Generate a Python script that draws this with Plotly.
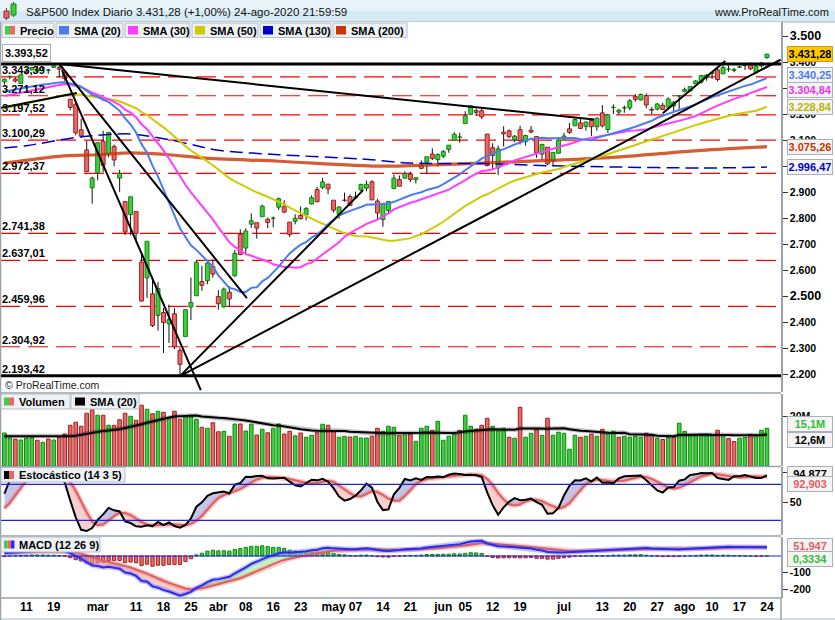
import numpy as np
import plotly.graph_objects as go

W, H = 835, 620
FONT = "Liberation Sans, Arial, Helvetica, sans-serif"

# ---------------- data ----------------
feb = [5, 6, 7, 10, 11, 12, 13, 14, 18, 19, 20, 21, 24, 25, 26, 27, 28]
mar = [2, 3, 4, 5, 6, 9, 10, 11, 12, 13, 16, 17, 18, 19, 20, 23, 24, 25, 26, 27, 30, 31]
apr = [1, 2, 3, 6, 7, 8, 9, 13, 14, 15, 16, 17, 20, 21, 22, 23, 24, 27, 28, 29, 30]
may = [1, 4, 5, 6, 7, 8, 11, 12, 13, 14, 15, 18, 19, 20, 21, 22, 26, 27, 28, 29]
jun = [1, 2, 3, 4, 5, 8, 9, 10, 11, 12, 15, 16, 17, 18, 19, 22, 23, 24, 25, 26, 29, 30]
jul = [1, 2, 6, 7, 8, 9, 10, 13, 14, 15, 16, 17, 20, 21, 22, 23, 24, 27, 28, 29, 30, 31]
aug = [3, 4, 5, 6, 7, 10, 11, 12, 13, 14, 17, 18, 19, 20, 21, 24]
dates = ([f"2020-02-{d:02d}" for d in feb] + [f"2020-03-{d:02d}" for d in mar] +
         [f"2020-04-{d:02d}" for d in apr] + [f"2020-05-{d:02d}" for d in may] +
         [f"2020-06-{d:02d}" for d in jun] + [f"2020-07-{d:02d}" for d in jul] +
         [f"2020-08-{d:02d}" for d in aug])

open_p = [
    3324.91, 3344.92, 3335.54, 3318.28, 3365.87, 3370.50, 3365.90, 3378.08, 3369.04, 3380.39, 3380.45, 3360.50, 3257.61, 3238.94, 3139.90, 3062.54, 2916.90,
    2974.28, 3096.46, 3045.75, 3075.70, 2954.20, 2863.89, 2813.48, 2825.60, 2630.86, 2569.99, 2508.59, 2425.66, 2436.50, 2393.48, 2431.94, 2290.71, 2344.44, 2457.77, 2501.29, 2555.87, 2558.98, 2614.69,
    2498.08, 2458.54, 2514.92, 2578.28, 2738.65, 2685.00, 2776.99, 2782.46, 2805.10, 2795.64, 2799.34, 2842.43, 2845.62, 2784.81, 2787.89, 2810.42, 2812.64, 2854.65, 2909.96, 2918.46, 2930.91,
    2869.09, 2815.01, 2868.88, 2883.14, 2878.26, 2908.83, 2915.46, 2939.50, 2865.86, 2794.54, 2829.95, 2913.86, 2948.59, 2953.63, 2969.95, 2948.05, 3004.08, 3015.65, 3046.61, 3025.17,
    3038.78, 3064.78, 3098.90, 3111.56, 3163.84, 3199.92, 3213.32, 3213.42, 3123.53, 3071.04, 2993.76, 3131.00, 3136.13, 3101.64, 3140.29, 3094.42, 3138.70, 3114.40, 3046.60, 3073.20, 3018.59, 3050.20,
    3105.92, 3143.64, 3155.29, 3166.44, 3153.07, 3176.17, 3152.47, 3205.08, 3141.11, 3225.98, 3208.36, 3224.21, 3224.29, 3268.52, 3254.86, 3271.64, 3218.58, 3219.84, 3234.27, 3227.22, 3231.76, 3270.45,
    3288.26, 3289.92, 3317.37, 3323.17, 3340.05, 3356.04, 3370.34, 3355.46, 3372.95, 3368.66, 3380.86, 3387.04, 3392.51, 3360.48, 3386.01, 3418.09]
high_p = [
    3337.58, 3347.96, 3341.42, 3352.26, 3375.63, 3381.47, 3385.09, 3380.69, 3375.01, 3393.52, 3385.09, 3360.76, 3259.81, 3246.99, 3182.51, 3097.07, 2959.72,
    3090.96, 3136.72, 3130.97, 3083.04, 2985.93, 2863.89, 2882.59, 2825.60, 2660.95, 2711.33, 2562.98, 2553.93, 2453.57, 2466.97, 2453.01, 2300.73, 2449.71, 2571.42, 2637.01, 2615.91, 2631.80, 2641.39,
    2522.75, 2533.22, 2538.18, 2676.85, 2756.89, 2760.75, 2818.57, 2782.46, 2851.85, 2801.88, 2806.51, 2879.22, 2868.98, 2785.54, 2815.10, 2844.90, 2842.71, 2887.72, 2921.15, 2954.86, 2930.91,
    2869.09, 2844.24, 2898.23, 2891.11, 2901.92, 2932.16, 2944.25, 2945.82, 2874.14, 2852.80, 2865.01, 2968.09, 2964.21, 2980.29, 2978.50, 2956.76, 3021.72, 3036.25, 3068.67, 3049.17,
    3062.18, 3081.07, 3130.94, 3128.91, 3211.72, 3233.13, 3222.71, 3223.27, 3123.53, 3088.42, 3079.76, 3153.45, 3141.16, 3120.00, 3155.53, 3120.92, 3154.90, 3115.01, 3086.25, 3073.73, 3053.89, 3111.51,
    3128.44, 3165.81, 3182.59, 3184.15, 3171.80, 3179.78, 3186.82, 3235.32, 3200.95, 3238.28, 3220.39, 3233.52, 3258.61, 3277.29, 3279.32, 3279.99, 3227.26, 3241.43, 3243.72, 3264.74, 3250.92, 3272.17,
    3302.73, 3306.84, 3330.77, 3351.03, 3352.54, 3363.29, 3381.01, 3387.89, 3387.24, 3378.51, 3387.59, 3395.06, 3399.54, 3390.80, 3399.96, 3432.09]
low_p = [
    3313.75, 3334.39, 3322.12, 3317.77, 3352.72, 3369.72, 3360.52, 3366.15, 3355.61, 3378.83, 3341.48, 3328.45, 3214.65, 3118.77, 3108.99, 2977.39, 2855.84,
    2945.19, 2976.63, 3034.38, 2999.83, 2901.54, 2734.43, 2734.00, 2707.22, 2478.86, 2492.37, 2380.94, 2367.04, 2280.52, 2319.78, 2295.56, 2191.86, 2344.44, 2407.53, 2500.72, 2520.02, 2545.28, 2571.15,
    2447.49, 2455.79, 2459.96, 2574.57, 2657.67, 2663.30, 2762.36, 2721.17, 2805.10, 2761.54, 2764.32, 2830.88, 2820.43, 2727.10, 2775.95, 2794.26, 2791.76, 2852.89, 2860.71, 2912.16, 2892.47,
    2821.61, 2797.85, 2863.55, 2847.65, 2876.48, 2902.88, 2903.44, 2869.59, 2793.15, 2766.64, 2816.78, 2913.86, 2922.35, 2953.63, 2938.57, 2933.59, 2988.17, 2969.75, 3023.40, 2998.61,
    3031.54, 3051.64, 3098.90, 3090.41, 3163.84, 3196.00, 3193.11, 3181.49, 2999.49, 2984.47, 2965.66, 3076.06, 3108.03, 3093.51, 3083.11, 3079.39, 3127.12, 3032.13, 3024.01, 3004.63, 2999.74, 3047.83,
    3101.17, 3124.52, 3155.29, 3142.93, 3136.53, 3115.70, 3136.22, 3149.43, 3127.66, 3200.76, 3198.59, 3205.65, 3215.16, 3247.77, 3253.10, 3222.66, 3200.05, 3214.25, 3216.17, 3227.22, 3204.13, 3220.26,
    3284.53, 3286.37, 3317.37, 3318.14, 3328.72, 3335.44, 3326.44, 3355.46, 3363.35, 3361.64, 3379.22, 3370.15, 3369.66, 3354.69, 3379.31, 3413.13]
close_p = [
    3334.69, 3345.78, 3327.71, 3352.09, 3357.75, 3379.45, 3373.94, 3380.16, 3370.29, 3386.15, 3373.23, 3337.75, 3225.89, 3128.21, 3116.39, 2978.76, 2954.22,
    3090.23, 3003.37, 3130.12, 3023.94, 2972.37, 2746.56, 2882.23, 2741.38, 2480.64, 2711.02, 2386.13, 2529.19, 2398.10, 2409.39, 2304.92, 2237.40, 2447.33, 2475.56, 2630.07, 2541.47, 2626.65, 2584.59,
    2470.50, 2526.90, 2488.65, 2663.68, 2659.41, 2749.98, 2789.82, 2761.63, 2846.06, 2783.36, 2799.55, 2874.56, 2823.16, 2736.56, 2799.31, 2797.80, 2836.74, 2878.48, 2863.39, 2939.51, 2912.43,
    2830.71, 2842.74, 2868.44, 2848.42, 2881.19, 2929.80, 2930.32, 2870.12, 2820.00, 2852.50, 2863.70, 2953.91, 2922.94, 2971.61, 2948.51, 2955.45, 2991.77, 3036.13, 3029.73, 3044.31,
    3055.73, 3080.82, 3122.87, 3112.35, 3193.93, 3232.39, 3207.18, 3190.14, 3002.10, 3041.31, 3066.59, 3124.74, 3113.49, 3115.34, 3097.74, 3117.86, 3131.29, 3050.33, 3083.76, 3009.05, 3053.24, 3100.29,
    3115.86, 3130.01, 3179.72, 3145.32, 3169.94, 3152.05, 3185.04, 3155.22, 3197.52, 3226.56, 3215.57, 3224.73, 3251.84, 3257.30, 3276.02, 3235.66, 3215.63, 3239.41, 3218.44, 3258.44, 3246.22, 3271.12,
    3294.61, 3306.51, 3327.77, 3349.16, 3351.28, 3360.47, 3333.69, 3380.35, 3373.43, 3372.85, 3381.99, 3389.78, 3374.85, 3385.51, 3397.16, 3431.28]
volume_m = [
    13.2, 11.2, 10.7, 10.4, 11.2, 11.5, 10.3, 9.5, 10.8, 10.4, 11.5, 12.8,
    16.3, 17.5, 15.9, 21.1, 22.5, 20.3, 20.3, 16.3, 16.3, 18.5, 21.1, 19.9,
    18.3, 24.3, 22.7, 20.9, 21.9, 21.5, 19.2, 21.9, 18.7, 19.6, 20.3, 18.7,
    15.5, 15.1, 17.3, 13.7, 13.9, 11.9, 16.8, 16.8, 14.0, 16.7, 12.4, 14.7,
    13.3, 15.1, 16.8, 12.8, 13.9, 12.1, 13.2, 11.5, 12.3, 13.3, 16.7, 16.3,
    14.1, 11.5, 11.9, 11.6, 11.9, 11.2, 11.2, 11.9, 15.1, 13.9, 15.9, 15.5,
    12.3, 12.9, 12.8, 9.9, 15.1, 15.9, 14.3, 17.9, 10.3, 11.9, 12.9, 14.3,
    20.3, 15.9, 14.7, 16.3, 19.1, 15.9, 14.7, 15.1, 11.5, 11.1, 23.5, 11.5,
    13.1, 14.7, 12.3, 19.1, 12.3, 13.5, 13.1, 6.7, 12.3, 11.5, 11.9, 12.7,
    11.9, 14.7, 13.5, 13.9, 11.5, 11.9, 11.5, 11.9, 11.5, 13.1, 12.3, 11.1,
    10.6, 11.4, 11.5, 17.1, 13.9, 12.3, 12.3, 12.7, 12.7, 12.3, 14.3, 12.3,
    11.0, 9.8, 11.1, 11.5, 12.7, 12.3, 14.3, 15.1]
# closes before the first visible day (warm-up of the averages / MACD)
prior_close = [
    3110.29, 3133.64, 3140.52, 3153.63, 3140.98,
    3113.87, 3093.20, 3112.76, 3117.43, 3145.91, 3135.96, 3132.52, 3141.63, 3168.57, 3168.80, 3191.45, 3192.52, 3191.14, 3205.37, 3221.22, 3224.01, 3223.38, 3239.91, 3240.02, 3221.29, 3230.78,
    3257.85, 3234.85, 3246.28, 3237.18, 3253.05, 3274.70, 3265.35, 3288.13, 3283.15, 3289.29, 3316.81, 3329.62, 3320.79, 3321.75, 3325.54, 3295.47, 3243.63, 3276.24, 3273.40, 3283.66, 3225.52,
    3248.92, 3297.59]
prior_high = [3267.07, 3275.58, 3282.99, 3288.13, 3294.25, 3298.66, 3316.81, 3329.88, 3329.79, 3337.77,
              3326.88, 3333.18, 3258.85, 3285.78, 3293.47, 3285.91, 3282.33, 3268.44, 3306.92]
prior_low = [3236.67, 3263.67, 3260.86, 3268.43, 3277.19, 3280.69, 3301.04, 3318.86, 3316.61, 3320.04,
             3301.87, 3281.53, 3234.50, 3253.22, 3271.89, 3242.80, 3214.68, 3235.66, 3280.61]
vol_sma_head = [11.9, 11.9, 11.9, 11.9, 11.9, 11.9, 11.9, 11.9, 11.9, 11.9, 11.7, 11.7, 11.9, 12.1, 12.5, 13.1, 13.5, 13.7, 14.0]
sma130_at = [0, 4, 14, 23, 30, 36, 39, 50, 65, 74, 87, 99, 111, 127, 139]
sma130_val = [3070, 3079, 3113, 3124, 3102, 3074, 3061, 3044, 3028, 3012, 3010, 3002, 2997, 2993, 2996.47]
sma200_at = [0, 10, 17, 23, 30, 36, 50, 68, 74, 87, 99, 111, 127, 139]
sma200_val = [3012, 3038, 3044, 3051, 3044, 3032, 3019, 3000, 3002, 3012, 3022, 3034, 3061, 3075.26]
dashed_levels = [3343.39, 3271.12, 3197.52, 3100.29, 2972.37, 2741.38, 2637.01, 2459.96, 2304.92]
solid_levels = [3393.52, 2193.42]
trend_i0 = [10, 10, 10.5, -0.8, 32, 32, 120]
trend_p0 = [3393.52, 3393.52, 3370, 3224, 2191.86, 2191.86, 3204]
trend_i1 = [107.5, 44.2, 35.8, 13.2, 141.5, 65.4, 131.4]
trend_p1 = [3180, 2492, 2138, 3282, 3410, 2908, 3405]
tick_at = [4, 9, 17, 24, 29, 34, 39, 44, 49, 54, 60, 64, 69, 74, 80, 84, 89, 94, 102, 109, 114, 119, 124, 129, 134, 139]
tick_text = ["11", "19", "mar", "11", "18", "25", "abr", "08", "16", "23", "may", "07", "14", "21",
             "jun", "05", "12", "19", "jul", "13", "20", "27", "ago", "10", "17", "24"]
price_ticks = list(range(2200, 3501, 100))
hidden_price_ticks = [3300, 3000]   # covered by the value boxes on the right

# ---------------- computations ----------------
n = len(close_p)
idx = np.arange(n)
o, h, l, c = map(np.array, (open_p, high_p, low_p, close_p))
vol = np.array(volume_m)
call = np.array(prior_close + close_p)
off = len(prior_close)


def sma(arr, p):
    return np.array([arr[off + i - p + 1: off + i + 1].mean() for i in range(n)])


sma20, sma30, sma50 = sma(call, 20), sma(call, 30), sma(call, 50)


def ema(arr, p):
    a = 2.0 / (p + 1)
    out = np.empty(len(arr))
    out[0] = arr[0]
    for k in range(1, len(arr)):
        out[k] = a * arr[k] + (1 - a) * out[k - 1]
    return out


macd_full = ema(call, 12) - ema(call, 26)
sig_full = ema(macd_full, 9)
macd = macd_full[off:]
sig = sig_full[off:]
hist = macd - sig

sh = np.array(prior_high + high_p)
sl = np.array(prior_low + low_p)
sc = np.array(prior_close[-len(prior_high):] + close_p)
soff = len(prior_high)
m = len(sc)
raw = np.full(m, np.nan)
for t in range(13, m):
    hh, ll = sh[t - 13:t + 1].max(), sl[t - 13:t + 1].min()
    raw[t] = 100 * (sc[t] - ll) / (hh - ll)
K = np.full(m, np.nan)
for t in range(15, m):
    K[t] = raw[t - 2:t + 1].mean()
D = np.full(m, np.nan)
for t in range(19, m):
    D[t] = K[t - 4:t + 1].mean()
stk, std = K[soff:], D[soff:]

vsma = np.array([vol_sma_head[i] if i < 19 else vol[i - 19:i + 1].mean() for i in range(n)])
prev_c = np.concatenate([[prior_close[-1]], c[:-1]])
vol_up = c >= prev_c


def fmt(v, d=2):
    s = f"{v:,.{d}f}"
    return s.replace(",", "_").replace(".", ",").replace("_", ".")


# ---------------- layout helpers ----------------
def PX(x):
    return x / W


def PY(y):
    return 1 - y / H


XR = [-4.4 / 5.486, (781 - 4.4) / 5.486]
XD = [0, 781 / W]

fig = go.Figure()
GREEN, GREEN_D = "#3fcc3f", "#118811"
RED, RED_D = "#e46a6a", "#a32222"

# ---------------- main price panel ----------------
body_fill = [GREEN if u else RED for u in (c >= o)]
body_line = [GREEN_D if u else RED_D for u in (c >= o)]
fig.add_trace(go.Bar(x=idx, y=np.maximum(np.abs(c - o), 0.8), base=np.minimum(o, c), width=0.72,
                     marker=dict(color=body_fill, line=dict(color=body_line, width=1)),
                     xaxis="x2", yaxis="y2", hoverinfo="skip"))
wx, wy = [], []
for i in range(n):
    top, bot = max(o[i], c[i]), min(o[i], c[i])
    wx += [i, i, None, i, i, None]
    wy += [h[i], top, None, bot, l[i], None]
fig.add_trace(go.Scatter(x=wx, y=wy, mode="lines", line=dict(color="#111", width=1),
                         xaxis="x2", yaxis="y2", hoverinfo="skip"))

fig.add_trace(go.Scatter(x=sma200_at, y=sma200_val, mode="lines", line=dict(color="rgba(204,51,0,0.8)", width=3.2, shape="spline", smoothing=0.8),
                         xaxis="x2", yaxis="y2", hoverinfo="skip"))
fig.add_trace(go.Scatter(x=sma130_at, y=sma130_val, mode="lines", line=dict(color="#0000cc", width=1.5, dash="13px,6px", shape="spline", smoothing=0.8),
                         xaxis="x2", yaxis="y2", hoverinfo="skip"))
for arr, col in ((sma50, "#cccc00"), (sma30, "#ff3cff"), (sma20, "#4a7cf0")):
    fig.add_trace(go.Scatter(x=idx, y=arr, mode="lines", line=dict(color=col, width=2),
                             xaxis="x2", yaxis="y2", hoverinfo="skip"))
for a0, p0, a1, p1 in zip(trend_i0, trend_p0, trend_i1, trend_p1):
    fig.add_trace(go.Scatter(x=[a0, a1], y=[p0, p1], mode="lines", line=dict(color="#000", width=2),
                             xaxis="x2", yaxis="y2", hoverinfo="skip"))

for lev in dashed_levels:
    fig.add_shape(type="line", xref="x2 domain", x0=0, x1=1, yref="y2", y0=lev, y1=lev,
                  line=dict(color="#ff0000", width=1.2, dash="20px,8px"), layer="below")
for lev in solid_levels:
    fig.add_shape(type="line", xref="x2 domain", x0=0, x1=1, yref="y2", y0=lev, y1=lev,
                  line=dict(color="#000", width=3), layer="above")

# ---------------- volume panel ----------------
fig.add_trace(go.Bar(x=idx, y=vol, width=0.66,
                     marker=dict(color=[GREEN if u else RED for u in vol_up],
                                 line=dict(color=[GREEN_D if u else RED_D for u in vol_up], width=1)),
                     xaxis="x3", yaxis="y3", hoverinfo="skip"))
fig.add_trace(go.Scatter(x=idx, y=vsma, mode="lines", line=dict(color="rgba(0,0,0,0.25)", width=4.5),
                         xaxis="x3", yaxis="y3", hoverinfo="skip"))
fig.add_trace(go.Scatter(x=idx, y=vsma, mode="lines", line=dict(color="#000", width=2),
                         xaxis="x3", yaxis="y3", hoverinfo="skip"))


# ---------------- band fill helper ----------------
def band(xs, a, b, col_pos, col_neg, xa, ya):
    xs, a, b = list(map(float, xs)), list(map(float, a)), list(map(float, b))
    segs = []
    cx, ca, cb = [xs[0]], [a[0]], [b[0]]
    sg = a[0] >= b[0]
    for k in range(1, len(xs)):
        s = a[k] >= b[k]
        if s != sg:
            d0, d1 = a[k - 1] - b[k - 1], a[k] - b[k]
            t = d0 / (d0 - d1) if d0 != d1 else 0.5
            xc = xs[k - 1] + t * (xs[k] - xs[k - 1])
            yc = a[k - 1] + t * (a[k] - a[k - 1])
            cx.append(xc); ca.append(yc); cb.append(yc)
            segs.append((sg, cx, ca, cb))
            cx, ca, cb = [xc], [yc], [yc]
            sg = s
        cx.append(xs[k]); ca.append(a[k]); cb.append(b[k])
    segs.append((sg, cx, ca, cb))
    for s, cx, ca, cb in segs:
        fig.add_trace(go.Scatter(x=cx + cx[::-1], y=ca + cb[::-1], fill="toself",
                                 fillcolor=col_pos if s else col_neg, line=dict(width=0),
                                 mode="lines", xaxis=xa, yaxis=ya, hoverinfo="skip"))


# ---------------- stochastic panel ----------------
band(idx, stk, std, "rgba(150,150,215,0.55)", "rgba(240,160,160,0.5)", "x4", "y4")
fig.add_trace(go.Scatter(x=idx, y=std, mode="lines", line=dict(color="rgba(230,110,110,0.35)", width=5),
                         xaxis="x4", yaxis="y4", hoverinfo="skip"))
fig.add_trace(go.Scatter(x=idx, y=std, mode="lines", line=dict(color="#e06060", width=2),
                         xaxis="x4", yaxis="y4", hoverinfo="skip"))
fig.add_trace(go.Scatter(x=idx, y=stk, mode="lines", line=dict(color="#000", width=2),
                         xaxis="x4", yaxis="y4", hoverinfo="skip"))
for lev in (80, 20):
    fig.add_shape(type="line", xref="x4 domain", x0=0, x1=1, yref="y4", y0=lev, y1=lev,
                  line=dict(color="#2020dd", width=1.2), layer="above")

# ---------------- MACD panel ----------------
fig.add_trace(go.Bar(x=idx, y=hist, width=0.6,
                     marker=dict(color=[GREEN if v >= 0 else RED for v in hist],
                                 line=dict(color=[GREEN_D if v >= 0 else RED_D for v in hist], width=1)),
                     xaxis="x", yaxis="y", hoverinfo="skip"))
band(idx, macd, sig, "rgba(160,230,150,0.6)", "rgba(240,160,160,0.55)", "x", "y")
fig.add_trace(go.Scatter(x=idx, y=sig, mode="lines", line=dict(color="rgba(230,110,110,0.35)", width=5),
                         xaxis="x", yaxis="y", hoverinfo="skip"))
fig.add_trace(go.Scatter(x=idx, y=sig, mode="lines", line=dict(color="#e06060", width=2),
                         xaxis="x", yaxis="y", hoverinfo="skip"))
fig.add_trace(go.Scatter(x=idx, y=macd, mode="lines", line=dict(color="rgba(90,90,255,0.35)", width=5),
                         xaxis="x", yaxis="y", hoverinfo="skip"))
fig.add_trace(go.Scatter(x=idx, y=macd, mode="lines", line=dict(color="#2a2af0", width=2),
                         xaxis="x", yaxis="y", hoverinfo="skip"))
fig.add_shape(type="line", xref="x domain", x0=0, x1=1, yref="y", y0=0, y1=0,
              line=dict(color="#2020dd", width=1.2), layer="above")

# ---------------- axes ----------------
TF = dict(family=FONT, size=10.5, color="#000", weight="bold")
axcol = "#98a3ad"
common_x = dict(range=XR, domain=XD, showgrid=False, zeroline=False, showline=False, fixedrange=True)
main_tt = []
for v in price_ticks:
    s = fmt(v, 0)
    if v in hidden_price_ticks:
        s = ""
    elif v % 500 == 0:
        s = f"<span style='font-size:12.5px'>{s}</span>"
    main_tt.append(s)

fig.update_layout(
    width=W, height=H, margin=dict(l=0, r=0, t=0, b=0),
    paper_bgcolor="white", plot_bgcolor="white", showlegend=False, barmode="overlay",
    hovermode=False, font=dict(family=FONT),
    xaxis=dict(**common_x, anchor="y", tickvals=tick_at, ticktext=tick_text, ticks="",
               tickfont=dict(family=FONT, size=12, color="#000", weight="bold")),
    xaxis2=dict(**common_x, anchor="y2", matches="x", showticklabels=False),
    xaxis3=dict(**common_x, anchor="y3", matches="x", showticklabels=False),
    xaxis4=dict(**common_x, anchor="y4", matches="x", showticklabels=False),
    yaxis=dict(domain=[PY(598), PY(537)], range=[-251.5, 113.8], side="right", anchor="x",
               tickvals=[-100, -200], ticktext=["-100", "-200"], ticks="outside", ticklen=5,
               tickcolor="#333", tickfont=TF, showgrid=False, zeroline=False,
               showline=True, linecolor=axcol, linewidth=1.5),
    yaxis2=dict(domain=[PY(392), PY(22)], range=[2130.7, 3555.0], side="right", anchor="x2",
                tickvals=price_ticks, ticktext=main_tt, ticks="outside", ticklen=5,
                tickcolor="#333", tickfont=TF, showgrid=False, zeroline=False,
                showline=True, linecolor=axcol, linewidth=1.5),
    yaxis3=dict(domain=[PY(466), PY(394)], range=[0, 28.8], side="right", anchor="x3",
                tickvals=[20], ticktext=["20M"], ticks="outside", ticklen=5,
                tickcolor="#333", tickfont=TF, showgrid=False, zeroline=False,
                showline=True, linecolor=axcol, linewidth=1.5),
    yaxis4=dict(domain=[PY(535), PY(467)], range=[-4.5, 108.8], side="right", anchor="x4",
                tickvals=[50, 100], ticktext=["50", ""], ticks="outside", ticklen=5,
                tickcolor="#333", tickfont=TF, showgrid=False, zeroline=False,
                showline=True, linecolor=axcol, linewidth=1.5),
)


# ---------------- decorations (pixel placed) ----------------
def rect(x0, y0, x1, y1, fill, line=None, lw=1):
    fig.add_shape(type="rect", xref="paper", yref="paper", x0=PX(x0), x1=PX(x1), y0=PY(y1), y1=PY(y0),
                  fillcolor=fill, line=dict(color=line if line else fill, width=lw if line else 0), layer="above")


def pline(x0, y0, x1, y1, color=axcol, width=1.5):
    fig.add_shape(type="line", xref="paper", yref="paper", x0=PX(x0), x1=PX(x1), y0=PY(y0), y1=PY(y1),
                  line=dict(color=color, width=width), layer="above")


def ptext(x, y, s, size=11, color="#000", bold=True, anchor="left"):
    fig.add_annotation(xref="paper", yref="paper", x=PX(x), y=PY(y), text=s, showarrow=False,
                       xanchor=anchor, yanchor="middle",
                       font=dict(family=FONT, size=size, color=color, weight="bold" if bold else "normal"))


# header
rect(0, 0, 835, 11, "#e7f3f9")
rect(0, 11, 835, 22, "#d6eaf4")
pline(0, 22, 835, 22, "#9fb0bc", 1)
# icon candles
pline(6.5, 8, 6.5, 20, "#444", 1)
rect(4, 11, 9, 18, RED, RED_D)
pline(13.5, 2, 13.5, 17, "#444", 1)
rect(11, 4, 16, 15, GREEN, GREEN_D)
pct = fmt((c[-1] / c[-2] - 1) * 100)
ptext(24, 11.5, f"S&amp;P500 Index Diario {fmt(c[-1])} (+{pct}%) 24-ago-2020 21:59:59", 11.5, "#111", False)
ptext(831, 12, "www.ProRealTime.com", 11, "#111", False, "right")

# legend row
rect(0, 22, 781, 38, "white")
legend_boxes = [(2, 54, "Precio", None), (56, 123, "SMA (20)", "#4a7cf0"), (125, 190, "SMA (30)", "#ff3cff"),
                (192, 258, "SMA (50)", "#cccc00"), (260, 331, "SMA (130)", "#0000cc"), (333, 407, "SMA (200)", "#cc3300")]
for x0, x1, lab, col in legend_boxes:
    rect(x0, 23, x1, 37.5, "#eef1f4", "#b5bec6", 1)
    if col is None:
        rect(x0 + 3, 26, x0 + 8, 34.5, "#44cc44")
        rect(x0 + 8, 26, x0 + 13, 34.5, "#e46a6a")
    else:
        rect(x0 + 3, 26, x0 + 13, 34.5, col)
    ptext(x0 + 16, 30.5, lab, 11)

# panel frames
pline(0.5, 22, 0.5, 620, axcol, 1.5)
pline(0, 393, 781, 393)
pline(0, 466.5, 781, 466.5)
pline(0, 536, 781, 536)
pline(0, 598, 781, 598)
pline(781, 598, 781, 620)
pline(0, 619, 835, 619, "#b0b8c0", 1)

# panel labels
rect(1, 394, 70, 409, "#eef1f4", "#b5bec6")
rect(4, 397.5, 9, 405.5, "#44cc44"); rect(9, 397.5, 14, 405.5, "#e46a6a")
ptext(17, 401.5, "Volumen", 11)
rect(71, 394, 139, 409, "#eef1f4", "#b5bec6")
rect(75, 397.5, 85, 405.5, "#000")
ptext(88, 401.5, "SMA (20)", 11)
rect(1, 467.5, 125, 482, "#eef1f4", "#b5bec6")
rect(4, 471, 9, 479, "#000"); rect(9, 471, 14, 479, "#e46a6a")
ptext(17, 475, "Estocástico (14 3 5)", 11)
rect(1, 537, 100, 552, "#eef1f4", "#b5bec6")
rect(4, 540.5, 7.5, 548.5, "#44cc44"); rect(7.5, 540.5, 11, 548.5, "#e46a6a"); rect(11, 540.5, 14.5, 548.5, "#2a2af0")
ptext(17, 544.5, "MACD (12 26 9)", 11)

ptext(3, 385, "© ProRealTime.com", 10.5, "#222", False)

# level labels at the left
for k, lev in enumerate(solid_levels + dashed_levels):
    boxed = (k == 0)
    fig.add_annotation(xref="paper", yref="y2", x=PX(2), y=lev, yshift=2 if boxed else 1,
                       text=fmt(lev), showarrow=False, xanchor="left", yanchor="bottom",
                       font=dict(family=FONT, size=11, color="#000", weight="bold"),
                       bgcolor="white" if boxed else None, bordercolor="#a8b0b8" if boxed else None,
                       borderwidth=1 if boxed else 0, borderpad=2 if boxed else 0)


# right value boxes
def vbox(yref, val, txt, color, bg="#f4f4f4", border="#a8b0b8", yshift=0):
    fig.add_annotation(xref="paper", yref=yref, x=PX(787), y=val, yshift=yshift, text=txt,
                       showarrow=False, xanchor="left", yanchor="middle", width=42, align="center",
                       font=dict(family=FONT, size=11, color=color, weight="bold"),
                       bgcolor=bg, bordercolor=border, borderwidth=1, borderpad=1)


vbox("y2", c[-1], fmt(c[-1]), "#000", "#ffc800", "#d99a00")
vbox("y2", sma20[-1], fmt(sma20[-1]), "#4a7cf0", yshift=3)
vbox("y2", sma30[-1], fmt(sma30[-1]), "#ee33ee", yshift=-3)
vbox("y2", sma50[-1], fmt(sma50[-1]), "#b8b800")
vbox("y2", sma200_val[-1], fmt(sma200_val[-1]), "#cc3300")
vbox("y2", sma130_val[-1], fmt(sma130_val[-1]), "#0000cc")
vbox("y3", vol[-1], fmt(vol[-1], 1) + "M", "#33bb33", yshift=4)
vbox("y3", vsma[-1], fmt(vsma[-1], 1) + "M", "#000", yshift=-5)
vbox("y4", stk[-1], fmt(stk[-1], 3), "#000", yshift=1)
vbox("y4", std[-1], fmt(std[-1], 3), "#e06060", yshift=-7)
vbox("y", sig[-1], fmt(sig[-1], 3), "#e06060", yshift=1)
vbox("y", hist[-1], fmt(hist[-1], 4), "#33bb33", yshift=-3)

fig.write_html("out.html", include_plotlyjs=True, config={"displayModeBar": False})
